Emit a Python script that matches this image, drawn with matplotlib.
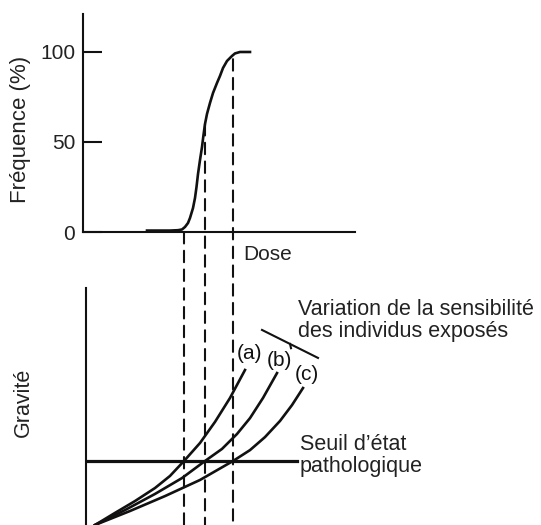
import matplotlib.pyplot as plt
from matplotlib.patches import ConnectionPatch

plt.rcParams['font.family'] = ['Liberation Sans', 'DejaVu Sans']

# top panel: frequency vs dose
dose_freq = [6.4, 8.7, 9.5, 9.9, 10.2, 10.5, 10.7, 11.0, 11.2, 11.35, 11.5, 11.7, 11.9,
             12.05, 12.2, 12.4, 12.7, 13.0, 13.4, 13.7, 14.0, 14.4, 14.9, 15.2, 15.7, 16.7]
freq = [0.8, 0.8, 1.0, 1.4, 2.8, 5.0, 7.8, 13.3, 18.9, 25.0, 32.2, 40.0, 47.2,
        53.9, 60.0, 65.6, 71.7, 77.2, 82.8, 86.7, 91.1, 95.0, 97.8, 99.2, 100, 100]
freq_ticks = [0, 50, 100]

# bottom panel: severity vs dose for three sensitivities
dose_a = [1.2, 3.2, 5.2, 7.2, 8.7, 10.1, 11.7, 13.2, 14.7, 16.2]
grav_a = [0, 5.1, 10.1, 15.6, 20.7, 27.0, 34.6, 43.5, 53.6, 65.4]
dose_b = [1.2, 4.2, 7.2, 9.9, 12.2, 13.9, 15.4, 16.7, 18.0, 19.4]
grav_b = [0, 6.3, 13.1, 19.8, 27.0, 32.1, 38.4, 45.1, 53.6, 64.1]
dose_c = [1.2, 4.7, 8.2, 11.7, 15.0, 16.7, 18.2, 19.7, 20.9, 22.0]
grav_c = [0, 5.9, 12.2, 19.0, 27.0, 31.6, 37.1, 43.9, 50.6, 57.8]
seuil = 27.0

# dashed projections
dash_dose = [10.1, 12.2, 15.0]
dash_freq = [0, 60, 96]

ink = '#111111'
txt = '#222222'

fig = plt.figure(figsize=(5.41, 5.25), dpi=100)
ax1 = fig.add_axes([83/541, (525-232)/525, 272/541, 218/525])
ax2 = fig.add_axes([86/541, 0, 269/541, 237/525])

ax1.plot(dose_freq, freq, color=ink, lw=1.9, solid_joinstyle='round')
ax1.set_xlim(0, 27.2)
ax1.set_ylim(0, 121.1)
ax1.set_yticks(freq_ticks)
ax1.set_xticks([])
ax1.tick_params(axis='y', direction='in', length=14, width=1.5, pad=5.5,
                labelsize=15, labelcolor=txt, color=ink)
for s in ['top', 'right']:
    ax1.spines[s].set_visible(False)
for s in ['left', 'bottom']:
    ax1.spines[s].set_linewidth(1.5)
    ax1.spines[s].set_color(ink)
ax1.set_ylabel('Fréquence (%)', fontsize=16, color=txt)
ax1.yaxis.set_label_coords(-0.19, 0.472)

for d, g in [(dose_a, grav_a), (dose_b, grav_b), (dose_c, grav_c)]:
    ax2.plot(d, g, color=ink, lw=1.9, solid_joinstyle='round')
ax2.plot([0.3, 21.4], [seuil, seuil], color=ink, lw=2.3)
ax2.set_xlim(0.3, 27.2)
ax2.set_ylim(0, 100)
ax2.set_xticks([])
ax2.set_yticks([])
for s in ['top', 'right', 'bottom']:
    ax2.spines[s].set_visible(False)
ax2.spines['left'].set_linewidth(1.5)
ax2.spines['left'].set_color(ink)
ax2.set_ylabel('Gravité', fontsize=15.5, color=txt)
ax2.yaxis.set_label_coords(-0.195, 0.519)

for d, f in zip(dash_dose, dash_freq):
    con = ConnectionPatch(xyA=(d, f), coordsA=ax1.transData,
                          xyB=(d, 0), coordsB=ax2.transData,
                          color=ink, lw=1.5, linestyle=(0, (5.5, 3.5)))
    fig.add_artist(con)

fig.text(243/541, (525-260)/525, 'Dose', fontsize=15, color=txt, va='baseline')

ax2.text(16.6, 72.2, '(a)', fontsize=15, color=ink, ha='center', va='center')
ax2.text(19.6, 69.6, '(b)', fontsize=15, color=ink, ha='center', va='center')
ax2.text(22.4, 63.3, '(c)', fontsize=15, color=ink, ha='center', va='center')
ax2.plot([17.9, 23.5], [82.3, 70.5], color=ink, lw=1.5, clip_on=False)
ax2.plot([20.7, 20.8], [76.4, 74.6], color=ink, lw=1.5, clip_on=False)

ax2.text(21.5, 88.6, 'Variation de la sensibilité', fontsize=15.5, color=txt, va='baseline')
ax2.text(21.5, 79.3, 'des individus exposés', fontsize=15.5, color=txt, va='baseline')
ax2.text(21.7, 31.6, 'Seuil d\u2019état', fontsize=15.5, color=txt, va='baseline')
ax2.text(21.7, 22.4, 'pathologique', fontsize=15.5, color=txt, va='baseline')

fig.savefig('out.png', dpi=100)
